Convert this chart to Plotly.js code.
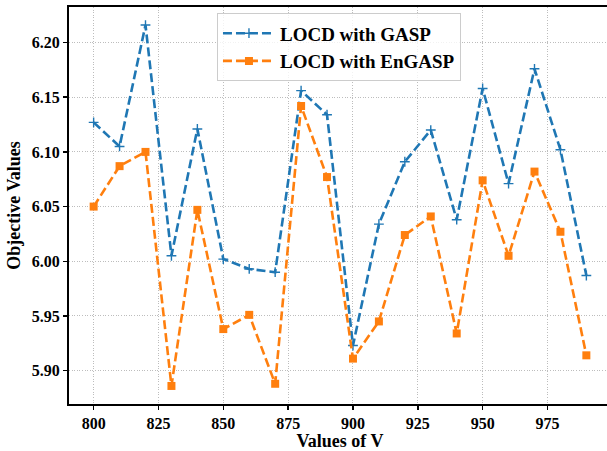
<!DOCTYPE html>
<html>
<head>
<meta charset="utf-8">
<script src="https://cdn.plot.ly/plotly-3.0.1.min.js"></script>
<style>
html, body { margin: 0; padding: 0; overflow: hidden; background: #fff; }
#chart { width: 615px; height: 451px; }
</style>
</head>
<body>
<div id="chart"></div>
<script>
const xValues = [800, 810, 820, 830, 840, 850, 860, 870, 880, 890, 900, 910, 920, 930, 940, 950, 960, 970, 980, 990];
const gaspValues = [6.127, 6.105, 6.216, 6.005, 6.121, 6.002, 5.993, 5.990, 6.156, 6.134, 5.923, 6.034, 6.091, 6.120, 6.038, 6.158, 6.071, 6.176, 6.102, 5.987];
const engaspValues = [6.050, 6.087, 6.100, 5.886, 6.047, 5.938, 5.951, 5.888, 6.142, 6.077, 5.911, 5.945, 6.024, 6.041, 5.934, 6.074, 6.005, 6.082, 6.027, 5.914];
const seriesNames = ["LOCD with GASP", "LOCD with EnGASP"];
const xTicks = [800, 825, 850, 875, 900, 925, 950, 975];
const yTicks = [5.90, 5.95, 6.00, 6.05, 6.10, 6.15, 6.20];

const font = "Liberation Serif, Times New Roman, serif";

const traces = [
  {
    x: xValues, y: gaspValues, name: seriesNames[0], type: "scatter", mode: "lines+markers",
    line: { color: "#1f77b4", width: 2.6, dash: "9px,4px" },
    marker: { symbol: "cross-thin-open", size: 7, color: "#1f77b4", line: { color: "#1f77b4", width: 1.4 } }
  },
  {
    x: xValues, y: engaspValues, name: seriesNames[1], type: "scatter", mode: "lines+markers",
    line: { color: "#ff7f0e", width: 2.6, dash: "9px,4px" },
    marker: { symbol: "square", size: 8, color: "#ff7f0e" }
  }
];

const layout = {
  width: 615, height: 451,
  margin: { l: 69, r: 4, t: 7, b: 47 },
  paper_bgcolor: "#fff", plot_bgcolor: "#fff",
  font: { family: font, color: "#000", size: 16 },
  showlegend: true,
  legend: {
    x: 0.273, y: 0.984, xanchor: "left", yanchor: "top",
    bgcolor: "rgba(255,255,255,0.8)", bordercolor: "#cccccc", borderwidth: 1,
    font: { family: font, size: 19, color: "#000", weight: "bold" },
    itemwidth: 52,
    tracegroupgap: 0
  },
  xaxis: {
    range: [790.5, 999.5],
    tickvals: xTicks, ticktext: xTicks.map(String),
    ticks: "outside", ticklen: 4, tickwidth: 1.5, tickcolor: "#000",
    tickfont: { family: font, size: 16, weight: "bold" },
    showline: true, linecolor: "#000", linewidth: 2, mirror: true,
    showgrid: true, gridcolor: "#bdbdbd", griddash: "1px,1.6px", gridwidth: 1,
    zeroline: false,
    title: { text: "Values of V", font: { family: font, size: 18, weight: "bold" }, standoff: 4 }
  },
  yaxis: {
    range: [5.8695, 6.2325],
    tickvals: yTicks, ticktext: yTicks.map(v => v.toFixed(2)),
    ticks: "outside", ticklen: 4, tickwidth: 1.5, tickcolor: "#000",
    tickfont: { family: font, size: 16, weight: "bold" },
    showline: true, linecolor: "#000", linewidth: 2, mirror: true,
    showgrid: true, gridcolor: "#bdbdbd", griddash: "1px,1.6px", gridwidth: 1,
    zeroline: false,
    title: { text: "Objective Values", font: { family: font, size: 18, weight: "bold" }, standoff: 6 }
  }
};

Plotly.newPlot("chart", traces, layout, { displayModeBar: false, staticPlot: true });
</script>
</body>
</html>
